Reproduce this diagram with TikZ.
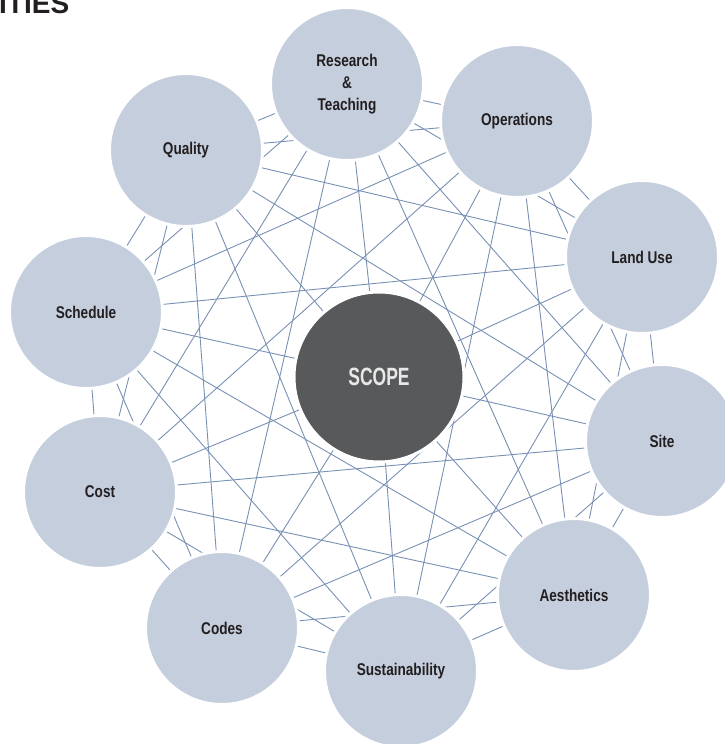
\documentclass[tikz,border=0pt]{standalone}
\usepackage{fontspec}
\setmainfont{Liberation Sans}
\newfontfamily\circfont[FakeStretch=0.8]{Liberation Sans}
\newfontfamily\scopefont[FakeStretch=0.7]{Liberation Sans}
\usetikzlibrary{backgrounds}

\definecolor{circfill}{HTML}{C5CEDD}
\definecolor{linkblue}{HTML}{7890B4}
\definecolor{scopegray}{HTML}{58595B}
\definecolor{scopetext}{HTML}{E8E8E8}
\definecolor{textdark}{HTML}{231F20}

\begin{document}
\begin{tikzpicture}[x=1pt, y=-1pt,
    topic/.style={circle, fill=circfill, draw=white, line width=3pt, minimum size=153pt, inner sep=0pt, align=center, text=textdark, font=\circfont\bfseries\fontsize{17}{22}\selectfont},
    link/.style={draw=linkblue, line width=0.9pt}]
  \useasboundingbox (0,0) rectangle (725,744);
  \node (title) [anchor=base west, inner sep=0pt, text=textdark, font=\bfseries\fontsize{28}{30}\selectfont] at (-1,13.5) {ITIES};

  \node (scope) [topic, fill=scopegray, minimum size=170pt, text=scopetext, font=\scopefont\bfseries\fontsize{25}{30}\selectfont] at (379,377) {SCOPE};
  \node (research) [topic] at (347,84) {Research\\\&\\Teaching};
  \node (operations) [topic] at (517,121) {Operations};
  \node (landuse) [topic] at (642,257) {Land Use};
  \node (site) [topic] at (662,441) {Site};
  \node (aesthetics) [topic] at (574,595) {Aesthetics};
  \node (sustain) [topic] at (401,671) {Sustainability};
  \node (codes) [topic] at (222,628) {Codes};
  \node (cost) [topic] at (100,492) {Cost};
  \node (schedule) [topic] at (86,312) {Schedule};
  \node (quality) [topic] at (186,150) {Quality};

  % every topic is tied to every other one (opposite pairs run through SCOPE)
  \begin{scope}[on background layer]
    \foreach \a [count=\i] in {scope,research,operations,landuse,site,aesthetics,sustain,codes,cost,schedule,quality}
      \foreach \b [count=\j] in {scope,research,operations,landuse,site,aesthetics,sustain,codes,cost,schedule,quality}
        {\pgfmathtruncatemacro\gap{\j-\i}
         \ifnum\j>\i \ifnum\i>1 \ifnum\gap=5 \else \draw[link] (\a.center) -- (\b.center); \fi
           \else \draw[link] (\a.center) -- (\b.center); \fi \fi}
  \end{scope}
\end{tikzpicture}
\end{document}
